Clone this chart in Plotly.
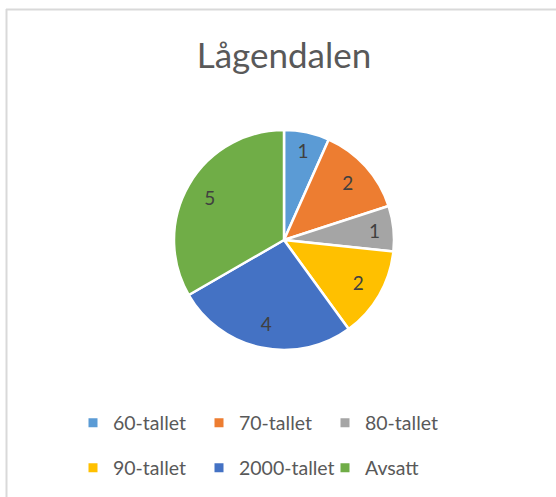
import plotly.graph_objects as go

categories = ["60-tallet", "70-tallet", "80-tallet", "90-tallet", "2000-tallet", "Avsatt"]
values = [1, 2, 1, 2, 4, 5]
colors = ["#5B9BD5", "#ED7D31", "#A5A5A5", "#FFC000", "#4472C4", "#70AD47"]
title_text = "Lågendalen"

W, H = 556, 497
FONT = "Lato, Open Sans, sans-serif"
pie_domain = dict(x=[(284 - 110) / W, (284 + 110) / W], y=[1 - 350 / H, 1 - 130 / H])

fig = go.Figure()
# coloured slices
fig.add_trace(go.Pie(
    labels=categories, values=values, sort=False, direction="clockwise", rotation=0,
    marker=dict(colors=colors, line=dict(color="white", width=2.5)),
    textinfo="none", domain=pie_domain, showlegend=False, hoverinfo="label+value",
))
# value labels, placed further out in the slices (like the reference)
fig.add_trace(go.Pie(
    labels=categories, values=values, sort=False, direction="clockwise", rotation=0,
    hole=0.56,
    marker=dict(colors=["rgba(0,0,0,0)"] * len(categories), line=dict(width=0)),
    textinfo="value", textposition="inside", insidetextorientation="horizontal",
    textfont=dict(family=FONT, size=19, color="#404040"),
    domain=pie_domain, showlegend=False, hoverinfo="skip",
))

for i, cat in enumerate(categories):
    fig.add_trace(go.Scatter(
        x=[None], y=[None], mode="markers", name=cat,
        marker=dict(symbol="square", size=9, color=colors[i]),
        legend="legend" if i < 3 else "legend2",
    ))

legend_common = dict(orientation="h", xanchor="left", yanchor="middle",
                     entrywidth=81, entrywidthmode="pixels",
                     font=dict(family=FONT, size=19.5, color="#595959"),
                     itemwidth=30, bgcolor="rgba(0,0,0,0)")

fig.update_layout(
    width=W, height=H,
    margin=dict(l=0, r=0, t=0, b=0),
    paper_bgcolor="white", plot_bgcolor="white",
    title=dict(text=title_text, x=284 / W, xanchor="center", y=1 - 56 / H, yanchor="middle",
               font=dict(family=FONT, size=35, color="#595959")),
    xaxis=dict(visible=False), yaxis=dict(visible=False),
    legend=dict(x=73 / W, y=1 - 423 / H, **legend_common),
    legend2=dict(x=73 / W, y=1 - 468 / H, **legend_common),
    shapes=[
        dict(type="line", xref="paper", yref="paper", x0=6 / W, x1=1, y0=1 - 9.5 / H, y1=1 - 9.5 / H,
             line=dict(color="#d9d9d9", width=2)),
        dict(type="line", xref="paper", yref="paper", x0=6.5 / W, x1=6.5 / W, y0=0, y1=1 - 9 / H,
             line=dict(color="#d9d9d9", width=2)),
    ],
)

fig.write_html("out.html", config={"displayModeBar": False},
               post_script="document.body.style.margin='0';")
